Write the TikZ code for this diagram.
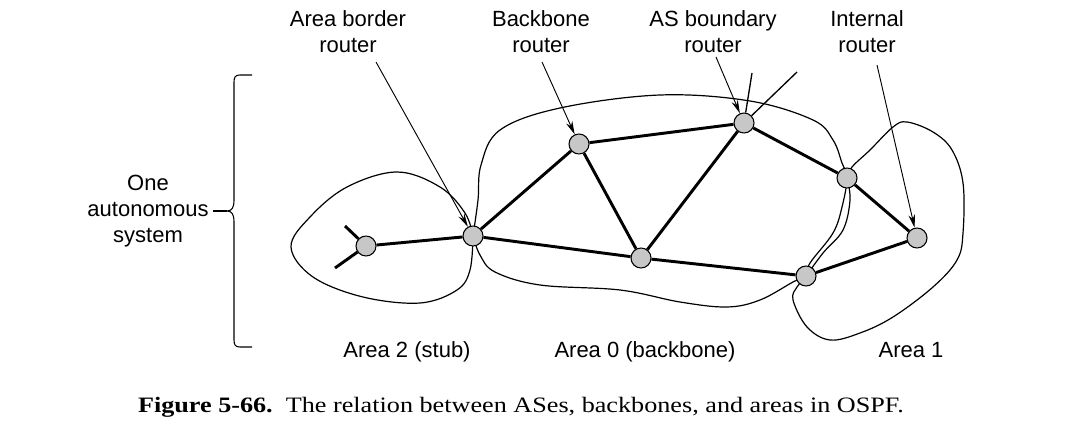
\documentclass[tikz,border=0pt]{standalone}
\usepackage{fontspec}
\setmainfont{Liberation Serif}
\newfontfamily\labfont{Liberation Sans}
\usetikzlibrary{arrows.meta}
\begin{document}
\begin{tikzpicture}[x=0.75pt,y=-0.75pt,
 router/.style={circle,draw=black,fill=black!22,line width=0.8pt,minimum size=15pt,inner sep=0pt},
 link/.style={line width=2.2pt},
 stubline/.style={line width=1pt},
 area/.style={line width=0.9pt},
 callout/.style={line width=0.7pt,-{Stealth[length=10pt,width=5pt]}},
 lbl/.style={font=\labfont\fontsize{16.5}{19.5}\selectfont,align=center,inner sep=0pt}
]
\useasboundingbox (0,0) rectangle (1084,435);

% areas
\draw[area] plot[smooth,tension=0.6] coordinates {(473,236) (465,213) (440,187) (397,172) (347,187) (310,217) (291,247) (313,277) (363,297) (420,303) (457,290) (470,270) (473,236)};
\draw[area] plot[smooth,tension=0.6] coordinates {(473,236) (478,200) (481,165) (500,130) (560,108) (660,95) (750,101) (813,120) (833,140) (842,163) (847,178) (842,207) (833,233) (810,263) (806,276) (793,282) (760,300) (727,307) (680,302) (620,290) (540,285) (495,272) (480,255) (473,236)};
\draw[area] plot[smooth,tension=0.6] coordinates {(847,178) (852,167) (870,150) (893,127) (907,122) (933,132) (952,150) (963,183) (963,233) (957,260) (933,287) (893,317) (860,333) (830,340) (807,327) (793,300) (797,287) (806,276) (823,253) (843,230) (850,200) (847,178)};

% routers
\node[router] (a2) at (366,246) {};
\node[router] (abr) at (473,236) {};
\node[router] (bb) at (579,144) {};
\node[router] (asb) at (744,123) {};
\node[router] (mid) at (641,258) {};
\node[router] (r1) at (847,178) {};
\node[router] (int) at (917,238) {};
\node[router] (r2) at (806,276) {};

\coordinate (s1) at (345,226);
\coordinate (s2) at (335,268);
\coordinate (s3) at (752,73);
\coordinate (s4) at (797,72);

% links
\draw[link] (a2) -- (abr);
\draw[link] (abr) -- (bb);
\draw[link] (abr) -- (mid);
\draw[link] (bb) -- (asb);
\draw[link] (bb) -- (mid);
\draw[link] (mid) -- (asb);
\draw[link] (asb) -- (r1);
\draw[link] (r1) -- (int);
\draw[link] (mid) -- (r2);
\draw[link] (r2) -- (int);
\draw[link] (a2) -- (s1);
\draw[link] (a2) -- (s2);
\draw[stubline] (asb) -- (s3);
\draw[stubline] (asb) -- (s4);

% labels
\node[lbl] (labr) at (348,32) {Area border\\router};
\node[lbl] (lbb) at (541,32) {Backbone\\router};
\node[lbl] (lasb) at (713,32) {AS boundary\\router};
\node[lbl] (lint) at (867,32) {Internal\\router};

\coordinate (c1) at (376,62);
\coordinate (c2) at (542,62);
\coordinate (c3) at (716,57);
\coordinate (c4) at (877,65);
\draw[callout] (c1) -- (abr);
\draw[callout] (c2) -- (bb);
\draw[callout] (c3) -- (asb);
\draw[callout] (c4) -- (int);

% autonomous system brace
\node[lbl] (as) at (148,211) {One\\autonomous\\system};
\coordinate (tip) at (227,211);
\draw[line width=0.8pt] (252,75) -- (240,75) .. controls (235.5,75) and (234,77) .. (234,82) -- (234,201) .. controls (234,207) and (232,211) .. (tip) .. controls (232,211) and (234,215) .. (234,221) -- (234,340) .. controls (234,345) and (235.5,347) .. (240,347) -- (252,347);
\draw[line width=0.8pt] ([xshift=3pt]as.east) -- (tip);

% area labels
\node[lbl,anchor=base] (l2) at (407,357) {Area 2 (stub)};
\node[lbl,anchor=base] (l0) at (645,357) {Area 0 (backbone)};
\node[lbl,anchor=base] (l1) at (911,357) {Area 1};

% caption
\node[font=\fontsize{16.5}{19}\selectfont,inner sep=0pt,xscale=1.19] (cap) at (521,407) {\textbf{Figure 5-66.}\ \ The relation between ASes, backbones, and areas in OSPF.};
\end{tikzpicture}
\end{document}
